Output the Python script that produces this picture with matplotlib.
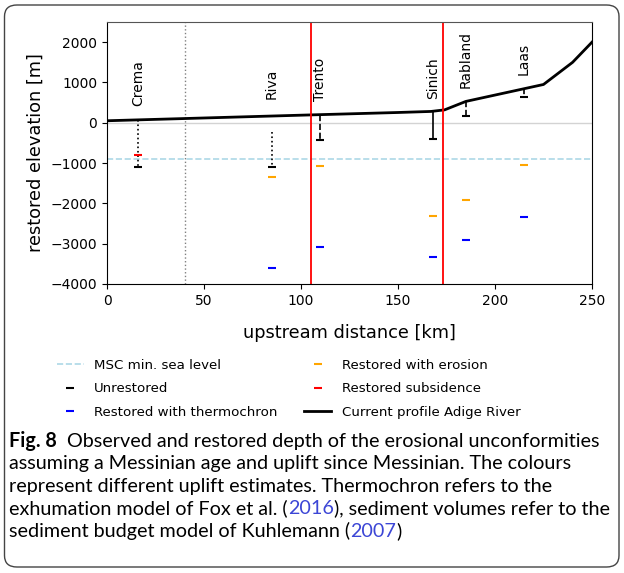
import numpy as np
import matplotlib
matplotlib.use('Agg')
import matplotlib.pyplot as plt
from matplotlib.patches import FancyBboxPatch

# ---------------- data ----------------
sites = ['Crema', 'Riva', 'Trento', 'Sinich', 'Rabland', 'Laas']
site_km = [16, 85, 110, 168, 185, 215]
unrestored_top = [70, -220, 200, 280, 530, 870]
unrestored_depth = [-1100, -1100, -420, -410, 180, 650]
erosion_depth = [np.nan, -1350, -1070, -2320, -1920, -1050]
thermochron_depth = [np.nan, -3600, -3080, -3330, -2910, -2350]
subsidence_depth = [-800, np.nan, np.nan, np.nan, np.nan, np.nan]
profile_km = [0, 40, 105, 150, 167, 174, 185, 225, 240, 250]
profile_elev = [50, 105, 195, 255, 281, 320, 530, 950, 1500, 2000]
msc_level = -900
fault_km = [105, 173]
boundary_km = 40
label_elev = [420, 590, 530, 600, 860, 1190]
unrestored_styles = [':', ':', '--', '-', '--', '--']

xticks = [0, 50, 100, 150, 200, 250]
yticks = [-4000, -3000, -2000, -1000, 0, 1000, 2000]

W, H = 624, 573
fig = plt.figure(figsize=(W / 100, H / 100), dpi=100)
ax = fig.add_axes([107 / W, 1 - 284 / H, (592 - 107) / W, (284 - 22) / H])

fs = 10
ax.axhline(0, color='lightgray', lw=1, zorder=1)
ax.axvline(boundary_km, color='gray', ls=':', lw=1, zorder=1)
ax.axhline(msc_level, color='lightblue', ls='--', lw=1.2, label='MSC min. sea level')

for x, t, d, ls in zip(site_km, unrestored_top, unrestored_depth, unrestored_styles):
    ax.plot([x, x], [t, d], color='black', ls=ls, lw=1.2)
ax.plot(site_km, unrestored_depth, ls='none', marker='_', ms=6, mew=1.5,
        color='black', label='Unrestored')
ax.plot(site_km, thermochron_depth, ls='none', marker='_', ms=6, mew=1.5,
        color='blue', label='Restored with thermochron')
ax.plot(site_km, erosion_depth, ls='none', marker='_', ms=6, mew=1.5,
        color='orange', label='Restored with erosion')
ax.plot(site_km, subsidence_depth, ls='none', marker='_', ms=6, mew=1.5,
        color='red', label='Restored subsidence')
ax.plot(profile_km, profile_elev, color='black', lw=2, label='Current profile Adige River')
for fk in fault_km:
    ax.axvline(fk, color='red', lw=1.3)

for name, x, ly in zip(sites, site_km, label_elev):
    ax.text(x, ly, name, rotation=90, ha='center', va='bottom', fontsize=fs)

ax.set_xlim(0, 250)
ax.set_ylim(-4000, 2500)
ax.set_xticks(xticks)
ax.set_yticks(yticks)
ax.tick_params(labelsize=fs)
ax.spines['top'].set_color('#555555')
ax.set_xlabel('upstream distance [km]', fontsize=12.8, labelpad=12)
ax.set_ylabel('restored elevation [m]', fontsize=12.8, labelpad=4)

fig.legend(loc='upper left', bbox_to_anchor=(57 / W, 1 - 359 / H), ncol=2,
           frameon=False, fontsize=9.6, borderpad=0, borderaxespad=0,
           columnspacing=2.0, labelspacing=0.78)

# ---------------- caption ----------------
cap_font = 'Lato'
cap_fs = 14.2
link = '#3c46d6'
lines = [
    [('Fig. 8', 'k', 'bold'), ('  Observed and restored depth of the erosional unconformities', 'k', 'normal')],
    [('assuming a Messinian age and uplift since Messinian. The colours', 'k', 'normal')],
    [('represent different uplift estimates. Thermochron refers to the', 'k', 'normal')],
    [('exhumation model of Fox et al. (', 'k', 'normal'), ('2016', link, 'normal'),
     ('), sediment volumes refer to the', 'k', 'normal')],
    [('sediment budget model of Kuhlemann (', 'k', 'normal'), ('2007', link, 'normal'),
     (')', 'k', 'normal')],
]
renderer = fig.canvas.get_renderer()
baselines = [447, 469.5, 492, 514.5, 537]
for parts, yb in zip(lines, baselines):
    x0 = 9
    for txt, col, wt in parts:
        t = fig.text(x0 / W, 1 - yb / H, txt, color=col, fontweight=wt,
                     fontsize=cap_fs, family=cap_font, va='baseline', ha='left')
        bb = t.get_window_extent(renderer)
        x0 += bb.width

box = FancyBboxPatch((4.5 / W, 1 - 567 / H), (619 - 4.5) / W, (567 - 5) / H,
                     boxstyle='round,pad=0,rounding_size=0.02',
                     transform=fig.transFigure, fill=False, ec='#444444', lw=1.0)
fig.patches.append(box)

fig.savefig('out.png', dpi=100)
